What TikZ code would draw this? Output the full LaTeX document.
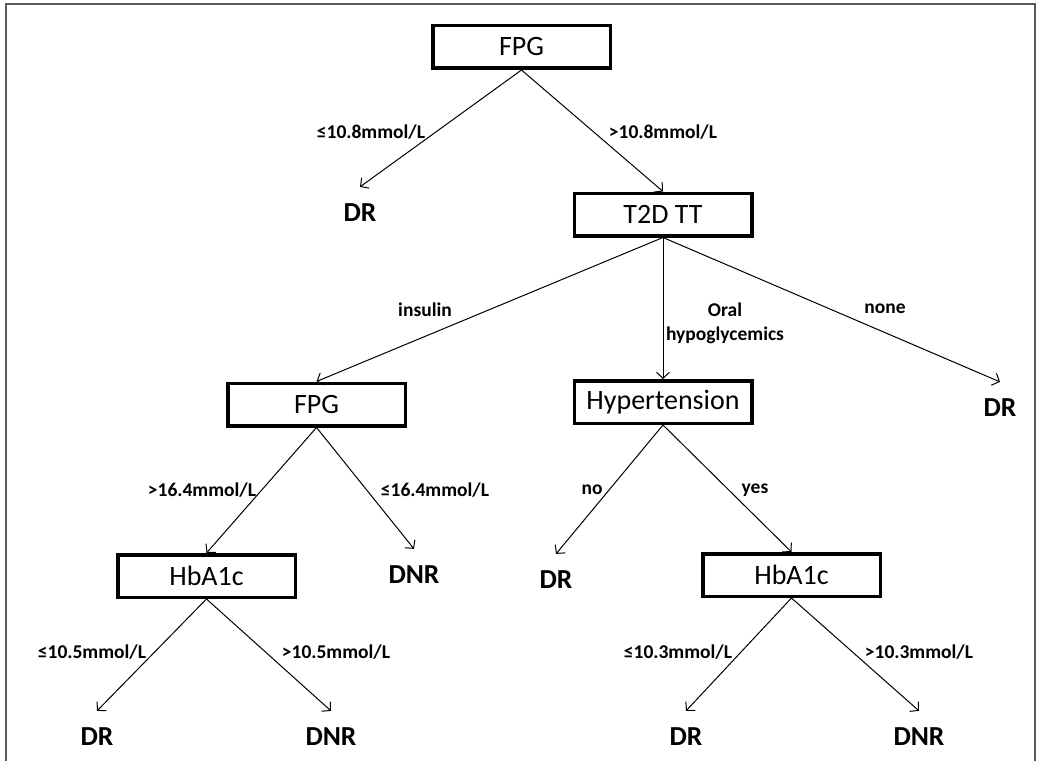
\documentclass[tikz,border=0pt]{standalone}
\usepackage{fontspec}
\setmainfont{Carlito}
\usetikzlibrary{arrows.meta}
\definecolor{framegray}{RGB}{90,90,90}
\begin{document}
\begin{tikzpicture}[x=1pt,y=-1pt,
  box/.style={draw, line width=3.5pt, minimum width=177.5pt, minimum height=42.5pt, inner sep=0pt, font=\fontsize{28}{34}\selectfont},
  leaf/.style={inner xsep=0pt, inner ysep=17pt, font=\fontsize{27.5}{33}\selectfont\bfseries},
  lbl/.style={inner sep=0pt, align=center, font=\fontsize{19.5}{23.5}\selectfont\bfseries},
  arr/.style={-{Straight Barb[length=6pt,width=13pt]}, line width=1pt},
  frameline/.style={draw=framegray, line width=1.5pt}]
\useasboundingbox (0,0) rectangle (1038,760);
\draw[frameline] (6,762) -- (6,4) -- (1035,4) -- (1035,762);
% decision boxes
\node[box] (fpg1) at (521.5,47) {FPG};
\node[box] (t2d) at (663,214.5) {T2D TT};
\node[box] (fpg2) at (316.5,404.5) {FPG};
\node[box] (hyp) at (663,402) {Hypertension};
\node[box] (hba1) at (206.5,576) {HbA1c};
\node[box] (hba2) at (791.5,575) {HbA1c};
% leaves
\node[leaf] (dr1) at (360,213) {DR};
\node[leaf] (dr2) at (1000,408) {DR};
\node[leaf] (dnr1) at (414,575) {DNR};
\node[leaf] (dr3) at (556,580) {DR};
\node[leaf] (dr4) at (97,737) {DR};
\node[leaf] (dnr2) at (331,737) {DNR};
\node[leaf] (dr5) at (686,737) {DR};
\node[leaf] (dnr3) at (919,737) {DNR};
% connectors
\draw[arr] (fpg1.south) -- (dr1.north);
\draw[arr] (fpg1.south) -- (t2d.north);
\draw[arr] (t2d.south) -- (fpg2.north);
\draw[arr] (t2d.south) -- (hyp.north);
\draw[arr] (t2d.south) -- (dr2.north);
\draw[arr] (fpg2.south) -- (hba1.north);
\draw[arr] (fpg2.south) -- (dnr1.north);
\draw[arr] (hyp.south) -- (dr3.north);
\draw[arr] (hyp.south) -- (hba2.north);
\draw[arr] (hba1.south) -- (dr4.north);
\draw[arr] (hba1.south) -- (dnr2.north);
\draw[arr] (hba2.south) -- (dr5.north);
\draw[arr] (hba2.south) -- (dnr3.north);
% labels
\node[lbl] (l1) at (371,132) {≤10.8mmol/L};
\node[lbl] (l2) at (663,132) {>10.8mmol/L};
\node[lbl] (l3) at (425,310) {insulin};
\node[lbl] (l4) at (725,323.5) {Oral\\hypoglycemics};
\node[lbl] (l5) at (885,309) {none};
\node[lbl] (l6) at (202,490) {>16.4mmol/L};
\node[lbl] (l7) at (435,490) {≤16.4mmol/L};
\node[lbl] (l8) at (592,490) {no};
\node[lbl] (l9) at (755,490) {yes};
\node[lbl] (l10) at (92,652) {≤10.5mmol/L};
\node[lbl] (l11) at (336,652) {>10.5mmol/L};
\node[lbl] (l12) at (678,652) {≤10.3mmol/L};
\node[lbl] (l13) at (919,652) {>10.3mmol/L};
\end{tikzpicture}
\end{document}
